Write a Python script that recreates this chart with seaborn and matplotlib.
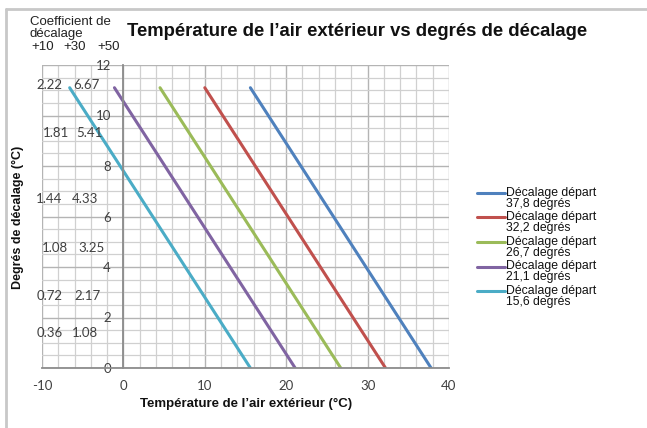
import matplotlib
matplotlib.use("Agg")
import matplotlib.pyplot as plt
import matplotlib.lines as mlines
from matplotlib.legend_handler import HandlerLine2D
import seaborn as sns
import pandas as pd
import numpy as np
from matplotlib.ticker import MultipleLocator

# ---- data ----
series_labels = [
    "Décalage départ\n37,8 degrés",
    "Décalage départ\n32,2 degrés",
    "Décalage départ\n26,7 degrés",
    "Décalage départ\n21,1 degrés",
    "Décalage départ\n15,6 degrés",
]
series_colors = ["#4F81BD", "#C0504D", "#9BBB59", "#8064A2", "#4BACC6"]
x_top = [15.6, 10.0, 4.5, -1.1, -6.6]
x_bottom = [37.8, 32.2, 26.7, 21.1, 15.6]
y_top = 11.1
y_bottom = 0.0

coef_title = ["Coefficient de", "décalage"]
coef_headers = ["+10", "+30", "+50"]
coef_10 = ["2.22", "1.81", "1.44", "1.08", "0.72", "0.36"]
coef_30 = ["6.67", "5.41", "4.33", "3.25", "2.17", "1.08"]
coef_y = [11.2, 9.3, 6.7, 4.75, 2.85, 1.4]

x_ticks = [-10, 0, 10, 20, 30, 40]
y_ticks = [0, 2, 4, 6, 8, 10, 12]

rows = []
for lab, xt, xb in zip(series_labels, x_top, x_bottom):
    rows.append({"x": xt, "y": y_top, "serie": lab})
    rows.append({"x": xb, "y": y_bottom, "serie": lab})
df = pd.DataFrame(rows)

sns.set_theme(style="white")
plt.rcParams["font.family"] = ["Liberation Sans", "DejaVu Sans"]

W, H = 647, 428
fig = plt.figure(figsize=(W / 100, H / 100), dpi=100)
ax = fig.add_axes([42 / W, 1 - 368 / H, (449 - 42) / W, (368 - 65) / H])

sns.lineplot(data=df, x="x", y="y", hue="serie", palette=series_colors,
             hue_order=series_labels, linewidth=2.2, ax=ax, legend=False,
             estimator=None, sort=False)

ax.set_xlim(-10, 40)
ax.set_ylim(0, 12)
ax.xaxis.set_major_locator(MultipleLocator(10))
ax.xaxis.set_minor_locator(MultipleLocator(2))
ax.yaxis.set_major_locator(MultipleLocator(2))
ax.yaxis.set_minor_locator(MultipleLocator(0.5))
ax.grid(which="major", color="#b4b4b4", linewidth=1.0)
ax.grid(which="minor", color="#d0d0d0", linewidth=0.9)
ax.set_axisbelow(True)

for s in ["top", "right"]:
    ax.spines[s].set_visible(False)
ax.spines["left"].set_position(("data", 0))
ax.spines["bottom"].set_position(("data", 0))
ax.spines["left"].set_color("#8c8c8c")
ax.spines["bottom"].set_color("#8c8c8c")
ax.spines["left"].set_linewidth(1.3)
ax.spines["bottom"].set_linewidth(1.3)

ax.set_xticks(x_ticks)
ax.set_yticks(y_ticks)
ax.set_xticklabels([str(t) for t in x_ticks], fontfamily="Lato", fontsize=9.5, color="#404040")
ax.set_yticklabels([str(t) for t in y_ticks], fontfamily="Lato", fontsize=9.5, color="#404040")
ax.tick_params(axis="x", which="both", length=0, pad=9)
ax.tick_params(axis="y", which="both", length=0, pad=9)
ax.set_xlabel("")
ax.set_ylabel("")

# coefficient annotations
for ty, line in zip([25, 37], coef_title):
    fig.text(30 / W, 1 - ty / H, line, fontsize=9.5, color="#222222",
             ha="left", va="baseline")
for hx, h in zip([31, 63, 97], coef_headers):
    fig.text(hx / W, 1 - 50 / H, h, fontsize=9.5, color="#222222", ha="left", va="baseline")
c1x = [36, 43, 36, 42, 37, 37]
c2x = [73, 76, 72, 78, 74, 72]
for y, a, b, xa, xb in zip(coef_y, coef_10, coef_30, c1x, c2x):
    ya = ax.transData.transform((0, y))[1]
    fig.text(xa / W, ya / H, a, fontfamily="Lato", fontsize=9.5, color="#404040",
             ha="left", va="center")
    fig.text(xb / W, ya / H, b, fontfamily="Lato", fontsize=9.5, color="#404040",
             ha="left", va="center")

# title and axis labels
fig.text(357 / W, 1 - 32 / H, "Température de l\u2019air extérieur vs degrés de décalage",
         fontsize=13.3, fontweight="bold", color="#111111", ha="center", va="center")
fig.text(246 / W, 1 - 404 / H, "Température de l\u2019air extérieur (°C)",
         fontsize=9.5, fontweight="bold", color="#111111", ha="center", va="center")
fig.text(18 / W, 1 - 217 / H, "Degrés de décalage (°C)", rotation=90,
         fontsize=9, fontweight="bold", color="#111111", ha="center", va="center")


class UpperHandler(HandlerLine2D):
    def create_artists(self, legend, orig_handle, xdescent, ydescent, width,
                       height, fontsize, trans):
        arts = super().create_artists(legend, orig_handle, xdescent, ydescent,
                                      width, height, fontsize, trans)
        for a in arts:
            a.set_ydata(np.asarray(a.get_ydata()) + 0.45 * fontsize)
        return arts


# legend
handles = [mlines.Line2D([], [], color=c, linewidth=2.2) for c in series_colors]
leg = fig.legend(handles, series_labels, loc="upper left",
                 bbox_to_anchor=(468 / W, 1 - 178 / H), frameon=False,
                 fontsize=8.8, handlelength=2.3, handletextpad=0.1,
                 labelspacing=0.12, borderpad=0.2,
                 handler_map={mlines.Line2D: UpperHandler()})
for t in leg.get_texts():
    t.set_linespacing(0.9)
    t.set_color("#111111")

# outer frame (top and left edges)
fig.add_artist(mlines.Line2D([6 / W, 1], [1 - 9 / H, 1 - 9 / H], color="#c8c8c8",
                             linewidth=2, transform=fig.transFigure))
fig.add_artist(mlines.Line2D([6 / W, 6 / W], [0, 1 - 9 / H], color="#c8c8c8",
                             linewidth=2, transform=fig.transFigure))

fig.savefig("out.png", dpi=100, facecolor="white")
